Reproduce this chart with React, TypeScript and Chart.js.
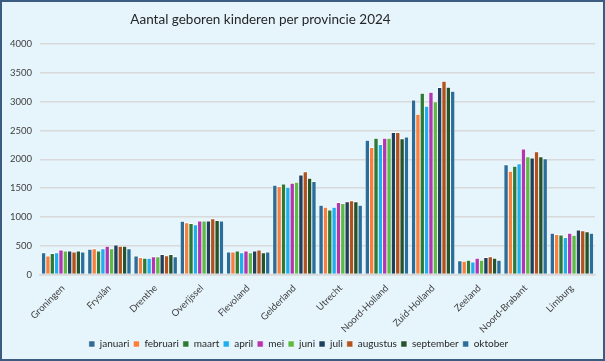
import React, { useEffect, useRef } from "react";
import { Chart, registerables } from "chart.js";

Chart.register(...registerables);

const provinces = [
  "Groningen", "Fryslân", "Drenthe", "Overijssel", "Flevoland", "Gelderland",
  "Utrecht", "Noord-Holland", "Zuid-Holland", "Zeeland", "Noord-Brabant", "Limburg",
];

const months = ["januari", "februari", "maart", "april", "mei", "juni", "juli", "augustus", "september", "oktober"];

const januari = [387, 446, 328, 935, 398, 1556, 1211, 2340, 3035, 246, 1912, 726];
const februari = [328, 457, 305, 905, 398, 1538, 1176, 2211, 2790, 240, 1802, 702];
const maart = [375, 416, 293, 895, 416, 1579, 1129, 2375, 3153, 258, 1889, 696];
const april = [387, 457, 293, 872, 386, 1521, 1176, 2263, 2930, 228, 1930, 649];
const mei = [434, 498, 316, 937, 416, 1591, 1258, 2375, 3170, 293, 2188, 726];
const juni = [416, 457, 316, 937, 386, 1609, 1240, 2375, 3007, 258, 2053, 691];
const juli = [416, 522, 357, 937, 416, 1737, 1270, 2474, 3253, 305, 2030, 779];
const augustus = [399, 498, 333, 977, 433, 1790, 1287, 2474, 3363, 316, 2141, 767];
const september = [416, 498, 357, 947, 386, 1679, 1270, 2363, 3258, 293, 2053, 749];
const oktober = [399, 457, 316, 937, 398, 1621, 1211, 2393, 3188, 258, 2018, 726];

const seriesValues = [januari, februari, maart, april, mei, juni, juli, augustus, september, oktober];
const colors = ["#2E6C98", "#F7803E", "#2E7A35", "#1FAEEE", "#B335AF", "#5DBA45", "#1F3F5D", "#B2521F", "#25532A", "#2A6F9C"];

const yTicks = [0, 500, 1000, 1500, 2000, 2500, 3000, 3500, 4000];

const titleText = "Aantal geboren kinderen per provincie 2024";

export default function App() {
  const ref = useRef<HTMLCanvasElement | null>(null);
  useEffect(() => {
    if (!ref.current) return;
    const font = "Lato, 'Open Sans', sans-serif";
    const chart = new Chart(ref.current, {
      type: "bar",
      data: {
        labels: provinces,
        datasets: months.map((m, i) => ({
          label: m,
          data: seriesValues[i],
          backgroundColor: colors[i],
          borderColor: "#FFFFFF",
          borderWidth: { top: 1, left: 0.5, right: 0.5, bottom: 0 },
          barPercentage: 1,
          categoryPercentage: 0.94,
        })),
      },
      options: {
        responsive: false,
        animation: false,
        layout: { padding: { left: 0, right: 8, top: 42, bottom: 0 } },
        plugins: {
          title: { display: false },
          legend: {
            position: "bottom",
            labels: {
              color: "#262626",
              boxWidth: 6,
              boxHeight: 6,
              padding: 4,
              font: { family: font, size: 10 },
            },
          },
          tooltip: { enabled: false },
        },
        scales: {
          x: {
            grid: { display: false },
            border: { display: true, color: "#D9D9D9", width: 1.5 },
            ticks: {
              color: "#404040",
              font: { family: font, size: 9.5 },
              maxRotation: 45,
              minRotation: 45,
              autoSkip: false,
              padding: 0,
            },
          },
          y: {
            min: 0,
            max: 4000,
            afterBuildTicks: (axis: any) => {
              axis.ticks = yTicks.map((v) => ({ value: v }));
            },
            grid: { color: "#D9D9D9", lineWidth: 1.5, drawTicks: false },
            border: { display: false },
            ticks: {
              color: "#404040",
              font: { family: font, size: 9.5 },
              padding: 8,
              callback: (v: any) => String(v),
            },
          },
        },
      },
    });
    return () => chart.destroy();
  }, []);
  return (
    <div
      style={{
        position: "absolute",
        left: 0,
        top: 0,
        width: 605,
        height: 361,
        boxSizing: "border-box",
        border: "2px solid #3C5B80",
        background: "#E6F5FC",
      }}
    >
      <canvas ref={ref} width={601} height={357} style={{ display: "block" }} />
      <div
        style={{
          position: "absolute",
          left: 0,
          top: 9,
          width: 517,
          textAlign: "center",
          fontFamily: "Lato, 'Open Sans', sans-serif",
          fontSize: 13.5,
          lineHeight: "16px",
          color: "#262626",
          whiteSpace: "nowrap",
        }}
      >
        {titleText}
      </div>
    </div>
  );
}
